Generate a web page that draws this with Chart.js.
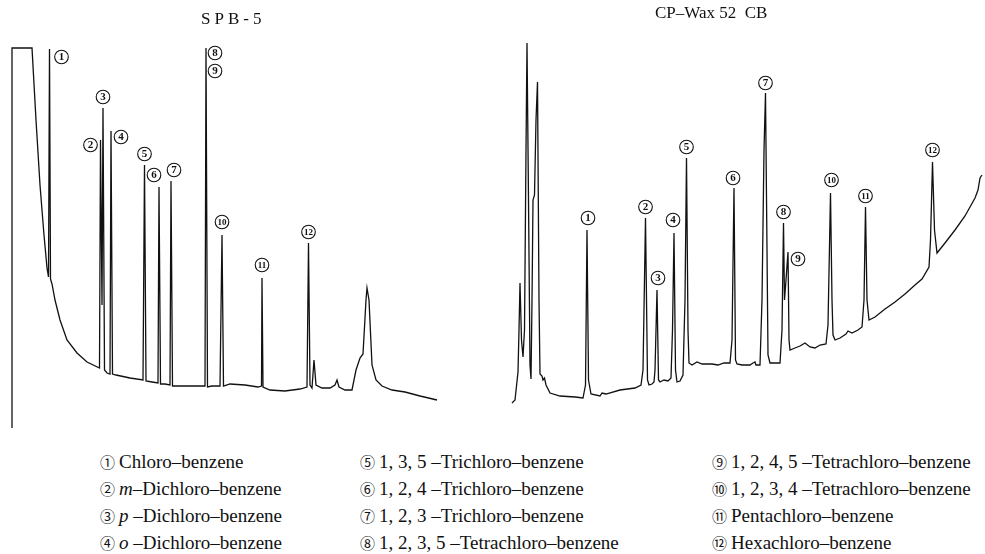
<!DOCTYPE html>
<html>
<head>
<meta charset="utf-8">
<script src="https://cdn.jsdelivr.net/npm/chart.js@4/dist/chart.umd.min.js"></script>
<style>
  body { margin: 0; background: #fff; width: 985px; height: 554px; overflow: hidden; position: relative; }
  canvas { position: absolute; top: 0; }
  #spb { left: 0; }
  #wax { left: 500px; }
  .title { position: absolute; font-family: "Liberation Serif", serif; font-size: 17px; color: #111; white-space: nowrap; }
  .legend { position: absolute; font-family: "Liberation Serif", serif; font-size: 19px; color: #111; }
  .legend div { height: 27px; line-height: 22px; white-space: nowrap; }
  .legend .n { font-family: "Noto Sans CJK JP", "DejaVu Sans", sans-serif; font-size: 15px; margin-right: 4px; }
</style>
</head>
<body>
<canvas id="spb" width="445" height="435"></canvas>
<canvas id="wax" width="485" height="435"></canvas>
<div class="title" style="left:201px; top:9px; letter-spacing:4px;">SPB-5</div>
<div class="title" style="left:655px; top:3px;">CP–Wax 52&nbsp;&nbsp;CB</div>
<script>
/* ===== DATA: retention (arb. units), detector response (arb. units) ===== */
const spbTime = [12, 12, 32, 36, 40, 44, 47, 48.5, 49.5, 50.5, 52, 55, 60, 67, 77, 87, 99.5, 100.5, 102, 103, 104.5,
  107, 110, 111, 112.5, 116, 130, 143, 144.5, 146, 152, 158, 159, 160.5, 165, 170, 171, 172.5, 180, 195, 205, 206,
  207.5, 212, 220, 222, 223.5, 230, 245, 258, 261.5, 262, 263, 270, 285, 300, 307, 308.5, 310, 312, 314, 316, 322,
  330, 335, 337, 339, 345, 352, 356, 360, 363, 366, 367, 369, 372, 376, 382, 392, 405, 420, 437];
const spbSignal = [7, 387, 387, 315, 250, 200, 167, 158, 386, 156, 151, 135, 115, 95, 82, 73, 67, 295, 130, 327, 65,
  62, 61, 304, 61, 60, 57, 55, 270, 54, 53, 52, 248, 51, 51, 50, 254, 49, 49, 49, 49, 387,
  48, 49, 49, 200, 49, 51, 50, 48, 49, 157, 48, 45, 44, 46, 48, 192, 50, 47, 75, 50, 47,
  47, 50, 55, 48, 45, 45, 65, 77, 81, 135, 147, 135, 70, 55, 49, 45, 43, 39, 35];

const waxTime = [512, 515, 518, 519, 520, 521.5, 523, 524.5, 526, 527, 528.5, 530, 531, 532, 533, 534.5, 536, 537.5,
  539, 540, 542, 543, 544.5, 546, 550, 560, 575, 583, 585.5, 587, 588.5, 591, 600, 602, 606, 620, 635, 641, 643,
  645.5, 647.5, 649, 652, 654, 655, 657, 658.5, 660, 664, 668, 671, 672.5, 674, 675.5, 677, 680, 683, 685, 686.5,
  688, 689, 692, 697, 702, 712, 718, 724, 730, 732, 734, 735.5, 737, 742, 750, 753, 755, 756, 760, 762, 764, 765.5,
  767, 768, 770, 774, 780, 782, 783.5, 784.5, 786, 788, 789, 790, 795, 800, 805, 810, 815, 820, 826, 828, 830.5,
  832, 833, 835, 840, 846, 848, 852, 858, 862, 864, 865.5, 867, 869, 875, 885, 895, 905, 915, 922, 929, 930.5,
  932.5, 934.5, 937, 945, 955, 965, 975, 978, 980, 982];
const waxSignal = [32, 35, 63, 105, 152, 95, 78, 105, 285, 392, 235, 70, 56, 135, 235, 240, 315, 353,
  135, 61, 59, 55, 57, 50, 42, 39, 38, 37, 50, 205, 55, 41, 39, 42, 41, 45, 47, 50, 65,
  217, 55, 50, 51, 53, 65, 145, 55, 53, 55, 54, 57, 105, 202, 65, 53, 54, 60, 135, 277,
  105, 72, 70, 73, 71, 71, 70, 72, 72, 95, 247, 75, 71, 70, 70, 72, 73, 70, 70, 135, 285, 342,
  185, 80, 72, 72, 72, 105, 212, 135, 155, 183, 95, 85, 87, 89, 92, 88, 87, 90, 91, 110, 242,
  135, 100, 95, 97, 101, 104, 102, 105, 108, 135, 228, 135, 115, 118, 126, 133, 141, 150, 156, 168, 195,
  273, 205, 182, 192, 205, 219, 237, 245, 257, 260];

// peak apex per compound 1..12
const spbPeakTime = [49.5, 100.5, 103, 111, 144.5, 159, 171, 206, 206, 222, 262, 308.5];
const spbPeakHeight = [386, 295, 327, 304, 270, 248, 254, 387, 387, 200, 157, 192];
const waxPeakTime = [587, 645.5, 657, 674, 686.5, 734, 765.5, 783.5, 788, 830.5, 865.5, 932.5];
const waxPeakHeight = [205, 217, 145, 202, 277, 247, 342, 212, 183, 242, 228, 273];

const compounds = [
  "Chloro–benzene", "<i>m</i>–Dichloro–benzene", "<i>p</i>&nbsp;–Dichloro–benzene", "<i>o</i>&nbsp;–Dichloro–benzene",
  "1, 3, 5 –Trichloro–benzene", "1, 2, 4 –Trichloro–benzene", "1, 2, 3 –Trichloro–benzene",
  "1, 2, 3, 5 –Tetrachloro–benzene", "1, 2, 4, 5 –Tetrachloro–benzene", "1, 2, 3, 4 –Tetrachloro–benzene",
  "Pentachloro–benzene", "Hexachloro–benzene"
];
const circled = ["①", "②", "③", "④", "⑤", "⑥", "⑦", "⑧", "⑨", "⑩", "⑪", "⑫"];

/* ===== LAYOUT: where each peak's tag sits relative to its apex (px) ===== */
const spbTagOffset = [[12, 8], [-10, 5], [0, -11], [10, 6], [0, -11], [-5, -12], [3, -11], [9, 5], [9, 23], [0, -13], [0, -13], [0, -11]];
const waxTagOffset = [[1, -12], [0, -11], [1, -12], [-1, -13], [0, -11], [-1, -10], [0, -10], [0, -11], [10, 7], [1, -13], [0, -11], [0, -12]];

const INK = "#111";

const peakTags = {
  id: "peakTags",
  afterDatasetsDraw(chart, args, opts) {
    const { ctx, scales } = chart;
    ctx.save();
    opts.times.forEach((t, i) => {
      const x = scales.x.getPixelForValue(t) + opts.offsets[i][0];
      const y = scales.y.getPixelForValue(opts.heights[i]) + opts.offsets[i][1];
      ctx.beginPath();
      ctx.arc(x, y, 6.8, 0, Math.PI * 2);
      ctx.fillStyle = "#fff";
      ctx.fill();
      ctx.lineWidth = 1.1;
      ctx.strokeStyle = INK;
      ctx.stroke();
      ctx.fillStyle = INK;
      ctx.textAlign = "center";
      ctx.textBaseline = "middle";
      const label = String(i + 1);
      ctx.font = label.length > 1 ? "bold 9px 'Liberation Serif'" : "bold 11px 'Liberation Serif'";
      ctx.fillText(label, x, y + 0.5);
    });
    ctx.restore();
  },
};

function chromatogram(id, times, signal, xMin, xMax, peakT, peakH, offsets) {
  return new Chart(document.getElementById(id), {
    type: "line",
    data: {
      datasets: [{
        data: times.map((t, i) => ({ x: t, y: signal[i] })),
        borderColor: INK,
        borderWidth: 1.3,
        pointRadius: 0,
        tension: 0,
      }],
    },
    options: {
      responsive: false,
      animation: false,
      devicePixelRatio: 1,
      layout: { padding: 0 },
      scales: {
        x: { type: "linear", display: false, min: xMin, max: xMax },
        y: { display: false, min: 0, max: 435 },
      },
      plugins: {
        legend: { display: false },
        tooltip: { enabled: false },
        peakTags: { times: peakT, heights: peakH, offsets },
      },
    },
    plugins: [peakTags],
  });
}

chromatogram("spb", spbTime, spbSignal, 0, 445, spbPeakTime, spbPeakHeight, spbTagOffset);
chromatogram("wax", waxTime, waxSignal, 500, 985, waxPeakTime, waxPeakHeight, waxTagOffset);

/* ===== compound key, three columns of four ===== */
const colLeft = [100, 360, 712];
colLeft.forEach((left, c) => {
  const col = document.createElement("div");
  col.className = "legend";
  col.style.left = left + "px";
  col.style.top = "451px";
  for (let r = 0; r < 4; r++) {
    const i = c * 4 + r;
    const row = document.createElement("div");
    row.innerHTML = `<span class="n">${circled[i]}</span>${compounds[i]}`;
    col.appendChild(row);
  }
  document.body.appendChild(col);
});
</script>
</body>
</html>
